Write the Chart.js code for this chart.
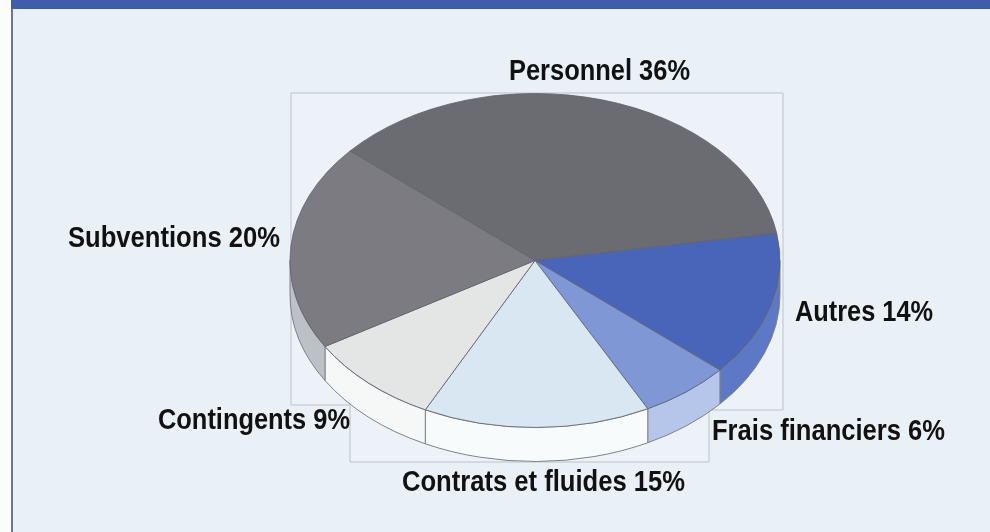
<!DOCTYPE html>
<html lang="fr">
<head>
    <meta charset="UTF-8">
    <title>Répartition des charges</title>
    <script src="https://cdn.jsdelivr.net/npm/chart.js"></script>
    <style>
        html, body { margin: 0; padding: 0; width: 990px; height: 532px; overflow: hidden; background: #e9f1f7; }
        #bande { position: absolute; left: 11px; top: 0; width: 979px; height: 9px; background: #3f5ea9; }
        #marge { position: absolute; left: 0; top: 0; width: 13px; height: 532px; background: #fbfcfc; border-right: 2px solid #6d7690; box-sizing: border-box; }
        canvas { position: absolute; left: 0; top: 0; }
    </style>
</head>
<body>
    <div id="marge"></div>
    <div id="bande"></div>
    <canvas id="camembert" width="990" height="532"></canvas>

    <script>
        // Données
        const categories = ['Personnel', 'Autres', 'Frais financiers', 'Contrats et fluides', 'Contingents', 'Subventions'];
        const valeurs = [36, 14, 6, 15, 9, 20];

        // Couleurs du dessus et de la tranche
        const couleurs = ['#6b6b72', '#4865ba', '#7f97d5', '#d9e7f3', '#e4e5e5', '#7b7b81'];
        const couleursTranche = ['#6b6b72', '#5d79c6', '#b5c6ea', '#f7fbfb', '#f6f8f8', '#bcc1c6'];

        // Position de chaque étiquette : gauche, ligne de base, largeur
        const etiquettes = [
            [509, 80, 181],
            [795, 321, 138],
            [712, 440, 233],
            [402, 491, 283],
            [158, 429, 192],
            [68, 247, 212]
        ];

        const aplatissement = 167 / 245;
        const epaisseur = 34;

        const pie3d = {
            id: 'pie3d',
            beforeDatasetsDraw(chart) {
                const ctx = chart.ctx;
                const arcs = chart.getDatasetMeta(0).data;
                const cx = arcs[0].x, cy = arcs[0].y;
                const rx = arcs[0].outerRadius, ry = rx * aplatissement;

                // cadre clair derrière le graphique
                ctx.save();
                ctx.beginPath();
                ctx.moveTo(291, 93);
                ctx.lineTo(783, 93);
                ctx.lineTo(783, 410);
                ctx.lineTo(709, 410);
                ctx.lineTo(709, 462);
                ctx.lineTo(350, 462);
                ctx.lineTo(350, 405);
                ctx.lineTo(291, 405);
                ctx.closePath();
                ctx.fillStyle = '#ecf2f8';
                ctx.fill();
                ctx.strokeStyle = '#bcc2c7';
                ctx.lineWidth = 1;
                ctx.stroke();

                // tranche visible (moitié basse)
                arcs.forEach((arc, i) => {
                    const a = Math.max(arc.startAngle, 0);
                    const b = Math.min(arc.endAngle, Math.PI);
                    if (b <= a) return;
                    ctx.beginPath();
                    ctx.ellipse(cx, cy, rx, ry, 0, a, b);
                    ctx.ellipse(cx, cy + epaisseur, rx, ry, 0, b, a, true);
                    ctx.closePath();
                    ctx.fillStyle = couleursTranche[i];
                    ctx.fill();
                    ctx.strokeStyle = '#7d838c';
                    ctx.lineWidth = 1;
                    ctx.stroke();
                });
                ctx.restore();

                // le dessus est aplati en ellipse
                ctx.save();
                ctx.translate(cx, cy);
                ctx.scale(1, aplatissement);
                ctx.translate(-cx, -cy);
            },
            afterDatasetsDraw(chart) {
                const ctx = chart.ctx;
                ctx.restore();

                ctx.save();
                ctx.font = 'bold 29px "Liberation Sans"';
                ctx.fillStyle = '#111111';
                ctx.textBaseline = 'alphabetic';
                categories.forEach((nom, i) => {
                    const [x, y, largeur] = etiquettes[i];
                    ctx.fillText(nom + ' ' + valeurs[i] + '%', x, y, largeur);
                });
                ctx.restore();
            }
        };

        new Chart(document.getElementById('camembert').getContext('2d'), {
            type: 'pie',
            data: {
                labels: categories,
                datasets: [{
                    data: valeurs,
                    backgroundColor: couleurs,
                    borderColor: '#5f6470',
                    borderWidth: 1
                }]
            },
            options: {
                responsive: false,
                animation: false,
                rotation: -49,
                layout: { padding: { left: 80, right: 0, top: 15, bottom: 26 } },
                plugins: {
                    legend: { display: false },
                    tooltip: { enabled: false }
                }
            },
            plugins: [pie3d]
        });
    </script>
</body>
</html>
